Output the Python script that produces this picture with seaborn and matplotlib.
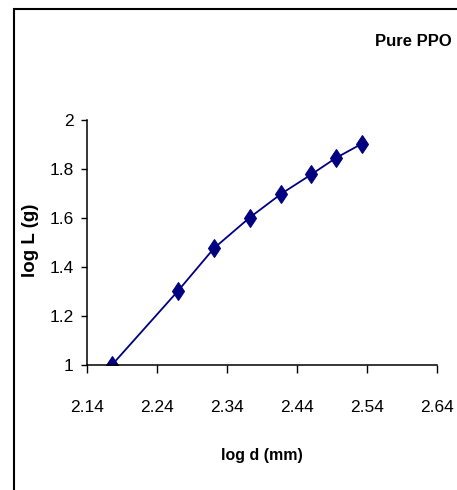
import pandas as pd
import matplotlib
matplotlib.use('Agg')
import matplotlib.pyplot as plt
from matplotlib.patches import Rectangle
import seaborn as sns

# Data (log d in mm, log L in g)
log_d = [2.176, 2.270, 2.322, 2.373, 2.418, 2.461, 2.496, 2.533]
log_L = [1.000, 1.301, 1.477, 1.602, 1.699, 1.778, 1.845, 1.903]
x_ticks = [2.14, 2.24, 2.34, 2.44, 2.54, 2.64]
y_ticks = [1, 1.2, 1.4, 1.6, 1.8, 2]
y_tick_labels = ['1', '1.2', '1.4', '1.6', '1.8', '2']

df = pd.DataFrame({'log d (mm)': log_d, 'log L (g)': log_L})

sns.set_style('ticks')
plt.rcParams['font.family'] = ['Liberation Sans', 'DejaVu Sans']
plt.rcParams['text.color'] = 'black'
plt.rcParams['axes.labelcolor'] = 'black'

fig = plt.figure(figsize=(4.57, 4.90), dpi=100)
ax = fig.add_axes([86.7 / 457, 1 - 365 / 490, 350 / 457, 245 / 490])

sns.lineplot(data=df, x='log d (mm)', y='log L (g)', ax=ax, color='#000080',
             linewidth=1.3, marker='d', markersize=9.5,
             markeredgecolor='#000080', markerfacecolor='#000080')

ax.set_xlim(2.14, 2.64)
ax.set_ylim(1, 2)
ax.set_xticks(x_ticks)
ax.set_xticklabels([f'{t:.2f}' for t in x_ticks])
ax.set_yticks(y_ticks)
ax.set_yticklabels(y_tick_labels)
ax.tick_params(axis='x', length=6, width=1, pad=19.5, labelsize=12.5,
               colors='black', labelcolor='black')
ax.tick_params(axis='y', length=4.5, width=1, pad=5, labelsize=12.5,
               colors='black', labelcolor='black')
sns.despine(ax=ax)
for s in ['left', 'bottom']:
    ax.spines[s].set_linewidth(1.1)
    ax.spines[s].set_color('black')

ax.set_xlabel('log d (mm)', fontsize=11.5, fontweight='bold')
ax.set_ylabel('log L (g)', fontsize=13.5, fontweight='bold')
ax.xaxis.set_label_coords(0.5, -0.339)
ax.yaxis.set_label_coords(-0.136, 0.51)

fig.text(413 / 457, 1 - 42 / 490, 'Pure PPO', fontsize=12, fontweight='bold',
         ha='center', va='center')

# outer chart frame
fig.add_artist(Rectangle((14 / 457, -0.5), 2, 1 - 9 / 490 + 0.5,
                         transform=fig.transFigure, fill=False,
                         edgecolor='black', linewidth=1.5))

fig.savefig('out.png', dpi=100)
